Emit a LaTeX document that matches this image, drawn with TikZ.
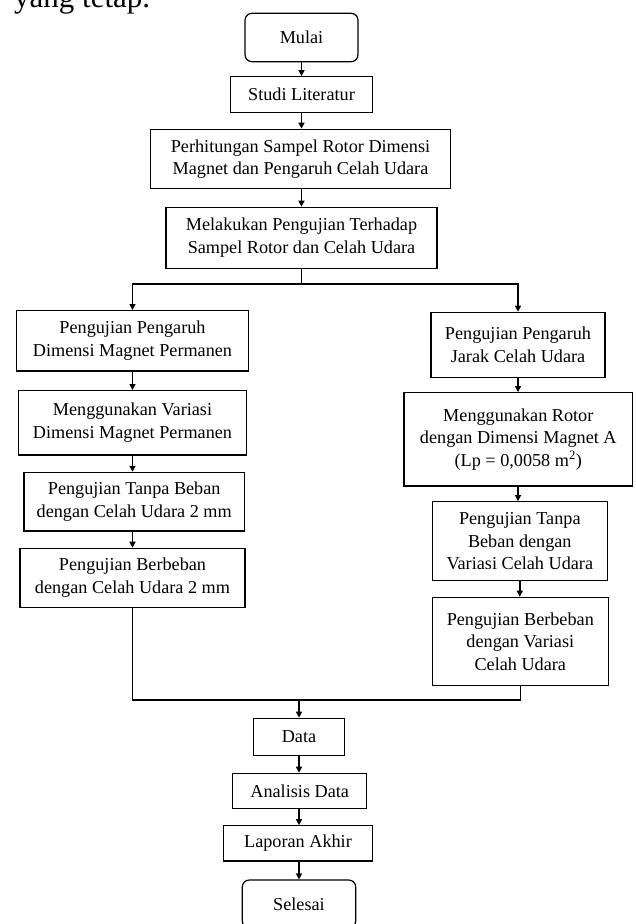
\documentclass[tikz,border=0pt]{standalone}
\usepackage{fontspec}
\setmainfont{Liberation Serif}
\usetikzlibrary{arrows.meta}
\tikzset{
  box/.style={draw, line width=1.2pt, align=center, inner sep=0pt,
    font=\fontsize{18.2}{22.5}\selectfont},
  term/.style={box, rounded corners=7pt},
  conn/.style={line width=1.4pt},
  arr/.style={conn, -{Triangle[length=6pt,width=6pt]}},
}
\begin{document}
\begin{tikzpicture}[x=1pt,y=-1pt]
\useasboundingbox (0,0) rectangle (635,924);
\node[anchor=base west, inner sep=0pt, font=\fontsize{31}{31}\selectfont] (prev) at (14,7) {yang tetap.};

\node[term, minimum width=113pt, minimum height=48.4pt] (mulai) at (301.5,37.5) {Mulai};
\node[box, minimum width=141.7pt, minimum height=36pt] (studi) at (301.5,94.7) {Studi Literatur};
\node[box, minimum width=300pt, minimum height=59.4pt] (perh) at (300.5,159) {Perhitungan Sampel Rotor Dimensi\\Magnet dan Pengaruh Celah Udara};
\node[box, minimum width=271pt, minimum height=61pt] (melak) at (301.5,237.8) {Melakukan Pengujian Terhadap\\Sampel Rotor dan Celah Udara};

\coordinate (split) at (301.5,284);

\node[box, minimum width=232.3pt, minimum height=60.3pt] (ppdim) at (132.5,340.8) {Pengujian Pengaruh\\Dimensi Magnet Permanen};
\node[box, minimum width=228.4pt, minimum height=64.3pt] (mvar) at (132.5,422.8) {Menggunakan Variasi\\Dimensi Magnet Permanen};
\node[box, minimum width=220.3pt, minimum height=58.7pt] (tbeban) at (134.2,501.7) {Pengujian Tanpa Beban\\dengan Celah Udara 2 mm};
\node[box, minimum width=225pt, minimum height=59pt] (berb) at (132.5,577.8) {Pengujian Berbeban\\dengan Celah Udara 2 mm};

\node[box, minimum width=174pt, minimum height=65pt] (ppjarak) at (518,344.8) {Pengujian Pengaruh\\Jarak Celah Udara};
\node[box, minimum width=228.7pt, minimum height=93.3pt] (rotor) at (518.3,439.3) {Menggunakan Rotor\\dengan Dimensi Magnet A\\(Lp = 0,0058 m\textsuperscript{2})};
\node[box, minimum width=175pt, minimum height=79pt] (tvar) at (519.8,541.2) {Pengujian Tanpa\\Beban dengan\\Variasi Celah Udara};
\node[box, minimum width=176pt, minimum height=88.4pt] (bvar) at (520.3,641.5) {Pengujian Berbeban\\dengan Variasi\\Celah Udara};

\coordinate (merge) at (299,700);

\node[box, minimum width=91pt, minimum height=37.4pt] (data) at (299,737) {Data};
\node[box, minimum width=134pt, minimum height=35pt] (anal) at (299.7,790.8) {Analisis Data};
\node[box, minimum width=149.4pt, minimum height=35.3pt] (lap) at (298,843.4) {Laporan Akhir};
\node[term, minimum width=113.4pt, minimum height=48pt] (sel) at (299,904) {Selesai};

\draw[arr] (mulai.south) -- (mulai.south |- studi.north);
\draw[arr] (studi.south) -- (studi.south |- perh.north);
\draw[arr] (perh.south -| studi.south) -- (studi.south |- melak.north);
\draw[conn] (melak.south) -- (split);
\draw[arr] (split) -| (ppdim.north);
\draw[arr] (split) -| (ppjarak.north);

\draw[arr] (ppdim.south) -- (ppdim.south |- mvar.north);
\draw[arr] (mvar.south) -- (mvar.south |- tbeban.north);
\draw[arr] (tbeban.south -| mvar.south) -- (mvar.south |- berb.north);

\draw[arr] (ppjarak.south) -- (ppjarak.south |- rotor.north);
\draw[arr] (rotor.south -| ppjarak.south) -- (ppjarak.south |- tvar.north);
\draw[arr] (tvar.south) -- (tvar.south |- bvar.north);

\draw[conn] (berb.south) |- (merge);
\draw[conn] (bvar.south) |- (merge);
\draw[arr] (merge) -- (data.north);
\draw[arr] (data.south) -- (data.south |- anal.north);
\draw[arr] (anal.south -| data.south) -- (data.south |- lap.north);
\draw[arr] (lap.south -| data.south) -- (data.south |- sel.north);
\end{tikzpicture}
\end{document}
